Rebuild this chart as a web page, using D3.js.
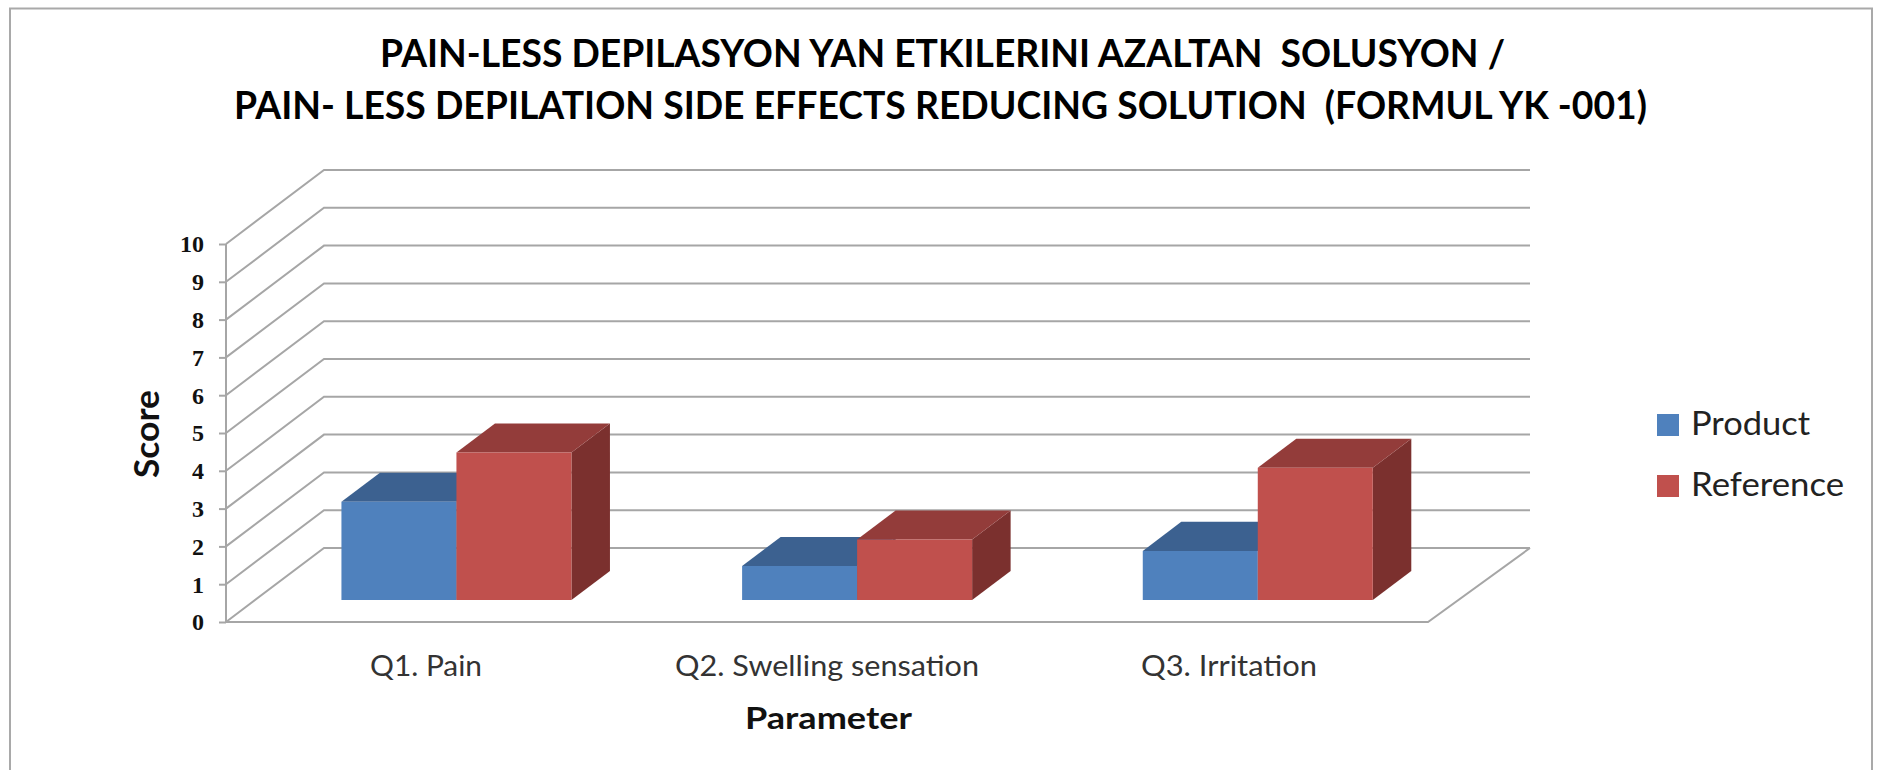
<!DOCTYPE html>
<html>
<head>
<meta charset="utf-8">
<script src="https://d3js.org/d3.v7.min.js"></script>
<style>
html,body{margin:0;padding:0;background:#fff;overflow:hidden}
svg{display:block}
text{white-space:pre;font-family:Lato,"Open Sans",sans-serif}
</style>
</head>
<body>
<svg id="c" width="1877" height="770"></svg>
<script>
const categories = ["Q1. Pain", "Q2. Swelling sensation", "Q3. Irritation"];
const seriesNames = ["Product", "Reference"];
const productValues = [2.6, 0.9, 1.3];
const referenceValues = [3.9, 1.6, 3.5];
const yTicks = [0,1,2,3,4,5,6,7,8,9,10];
const titleLines = ["PAIN-LESS DEPILASYON YAN ETKILERINI AZALTAN  SOLUSYON /",
                    "PAIN- LESS DEPILATION SIDE EFFECTS REDUCING SOLUTION  (FORMUL YK -001)"];
const xTitle = "Parameter", yTitle = "Score";
const frontColors = ["#4F81BD", "#C0504D"];
const topColors = ["#3C6190", "#933C3A"];
const sideColors = ["#335478", "#7B302E"];

const svg = d3.select("#c");
const grid = "#a6a6a6";

// frame (open at the bottom, the crop cuts it off)
svg.append("path").attr("d", "M10,770V8.5H1872V770").attr("fill","none").attr("stroke","#a9a9a9").attr("stroke-width",2);

// projection
const x = d3.scaleBand().domain(categories).range([227,1429]);
const inner = d3.scaleBand().domain(seriesNames).range([0,230]);
const y = d3.scaleLinear().domain([0,10]).range([622,244]);
const depthX = 98, depthY = -74;
const P = (px,py,z) => [px + depthX*z, py + depthY*z];
const path = pts => "M" + pts.map(p => p.join(",")).join("L") + "Z";
const line = pts => "M" + pts.map(p => p.join(",")).join("L");

// walls: gridlines
const g = svg.append("g").attr("fill","none").attr("stroke",grid).attr("stroke-width",2);
g.selectAll("path.g").data(yTicks).join("path").attr("class","g")
  .attr("d", t => line([[226,y(t)], P(226,y(t),1), [1530,P(0,y(t),1)[1]]]));
// floor edge
g.append("path").attr("d", line([[226,y(0)],[1428,y(0)],[1530,P(0,y(0),1)[1]]]));
g.append("path").attr("d", line([[226,y(0)],[226,y(10)]]));

// axis ticks and labels
const axis = d3.axisLeft(y).tickValues(yTicks).tickSize(7).tickPadding(15).tickFormat(d3.format("d"));
const ax = svg.append("g").attr("transform","translate(226,0)").call(axis);
ax.select(".domain").remove();
ax.selectAll("line").attr("stroke",grid).attr("stroke-width",2);
ax.selectAll("text").attr("font-size",24).attr("font-weight","bold").attr("fill","#111")
  .style("font-family",'"Liberation Serif",serif').attr("dy","0.33em");

// 3D bars
const zFront = 0.297, zBack = 0.69;
const bars = [];
categories.forEach((c,i) => {
  [productValues[i], referenceValues[i]].forEach((v,s) => bars.push({c, s, v}));
});
const gb = svg.append("g");
bars.forEach(b => {
  const x0 = x(b.c) + (x.bandwidth()-230)/2 + inner(seriesNames[b.s]);
  const x1 = x0 + inner.bandwidth();
  const yT = y(b.v), yB = y(0);
  gb.append("path").attr("fill",sideColors[b.s])
    .attr("d", path([P(x1,yB,zFront),P(x1,yB,zBack),P(x1,yT,zBack),P(x1,yT,zFront)]));
  gb.append("path").attr("fill",topColors[b.s])
    .attr("d", path([P(x0,yT,zFront),P(x0,yT,zBack),P(x1,yT,zBack),P(x1,yT,zFront)]));
  gb.append("path").attr("fill",frontColors[b.s])
    .attr("d", path([P(x0,yB,zFront),P(x0,yT,zFront),P(x1,yT,zFront),P(x1,yB,zFront)]));
});

function txt(s, px, py, size, weight, fill, len, anchor){
  return svg.append("text").text(s).attr("x",px).attr("y",py).attr("font-size",size)
    .attr("font-weight",weight).attr("fill",fill).attr("text-anchor",anchor||"start")
    .attr("textLength",len).attr("lengthAdjust","spacingAndGlyphs");
}

// title
txt(titleLines[0], 380, 67, 38, "bold", "#000", 1125);
txt(titleLines[1], 234, 119, 38, "bold", "#000", 1413);

// category labels
const labelBox = {"Q1. Pain":[370,112], "Q2. Swelling sensation":[675,304], "Q3. Irritation":[1141,176]};
categories.forEach(c => txt(c, labelBox[c][0], 676, 28, "normal", "#333", labelBox[c][1]));

// axis titles
txt(xTitle, 745, 729, 31, "bold", "#111", 167);
svg.append("text").text(yTitle).attr("transform","translate(159,478) rotate(-90)")
  .attr("font-size",34).attr("font-weight","bold").attr("fill","#111")
  .attr("textLength",88).attr("lengthAdjust","spacingAndGlyphs");

// legend
const legY = d3.scalePoint().domain(seriesNames).range([414,475]);
seriesNames.forEach((n,i) => {
  svg.append("rect").attr("x",1657).attr("y",legY(n)).attr("width",22).attr("height",22).attr("fill",frontColors[i]);
  txt(n, 1691, legY(n)+20.5, 33, "normal", "#222", i===0?119:153);
});
</script>
</body>
</html>
